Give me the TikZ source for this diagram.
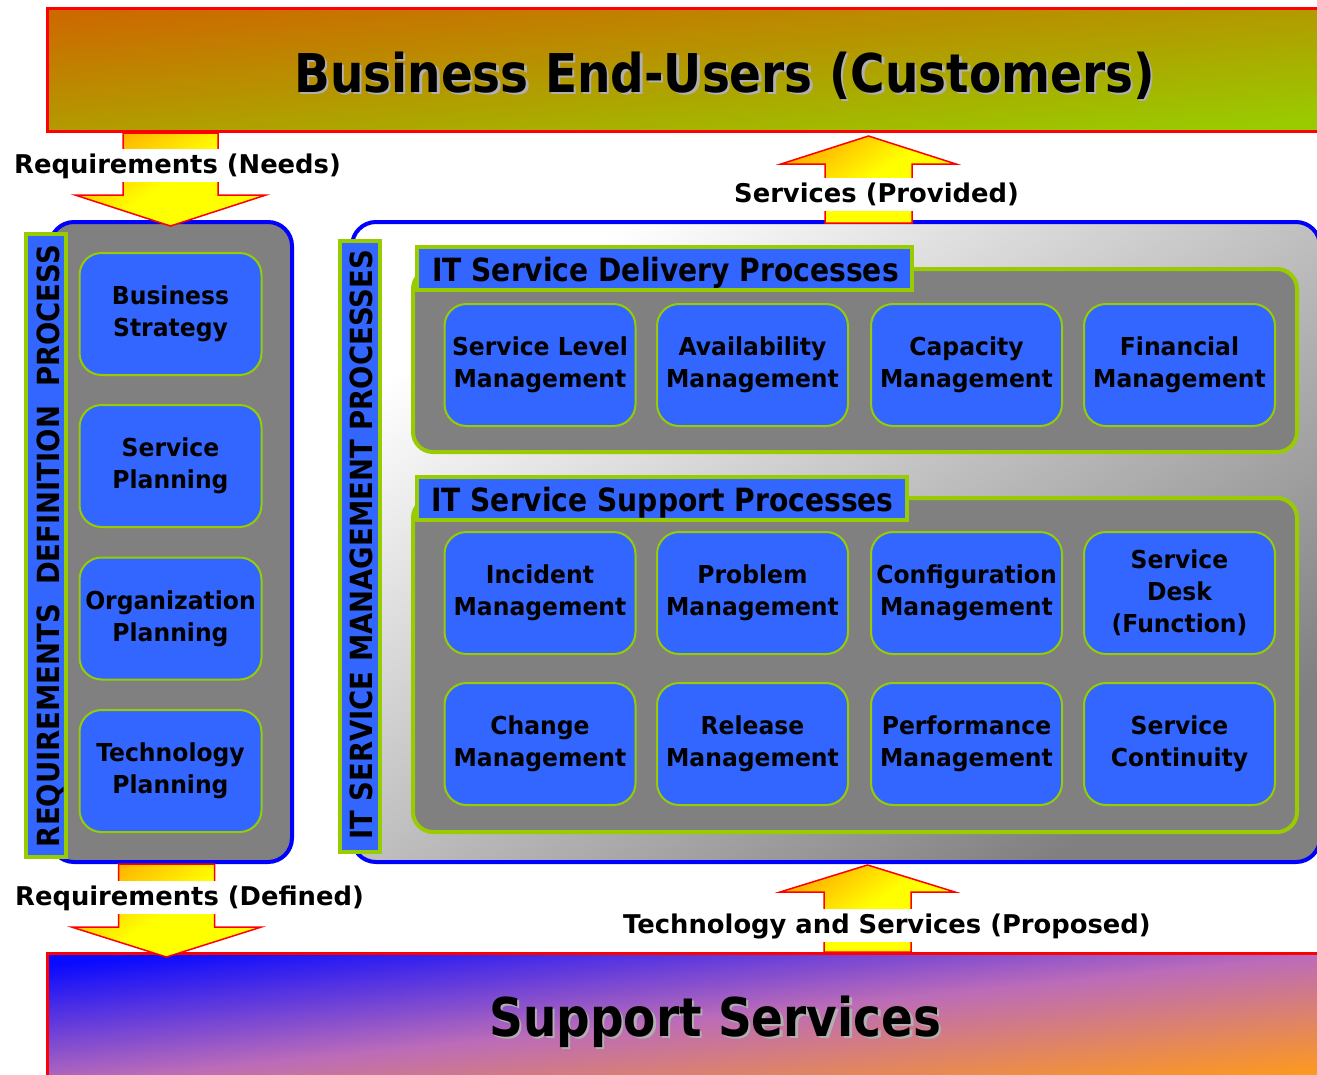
\documentclass[tikz,border=0pt]{standalone}
\usepackage{fontspec}
\setmainfont{DejaVu Sans}
\newfontfamily\narrowfam{DejaVu Sans}[FakeStretch=0.88]
\newfontfamily\vertfam{DejaVu Sans}[FakeStretch=0.9]
\newfontfamily\procfam{DejaVu Sans}[FakeStretch=0.95]
\usepackage{tikz}
\usetikzlibrary{calc}
\definecolor{redline}{HTML}{FF0000}
\definecolor{custA}{HTML}{CC6A00}
\definecolor{custB}{HTML}{99CC00}
\definecolor{suppA}{HTML}{0A0AFF}
\definecolor{suppM}{HTML}{BC6CB8}
\definecolor{suppB}{HTML}{FF9A1A}
\definecolor{frameblue}{HTML}{0000FF}
\definecolor{lime}{HTML}{99CC00}
\definecolor{procblue}{HTML}{3366FF}
\definecolor{midgrey}{HTML}{808080}
\definecolor{shadowgrey}{HTML}{B0B0B0}
\definecolor{arrorange}{HTML}{FFB000}
\definecolor{arryellow}{HTML}{FFFF00}
\newcommand{\bigfont}{\narrowfam\fontsize{53.4}{60}\selectfont\bfseries}
\newcommand{\labfont}{\fontsize{25.8}{30}\selectfont\bfseries}
\newcommand{\procfont}{\procfam\fontsize{24.7}{32}\selectfont\bfseries}
\newcommand{\tabfont}{\narrowfam\fontsize{32}{36}\selectfont\bfseries}
\newcommand{\vfont}{\vertfam\fontsize{30.5}{34}\selectfont\bfseries}
% block arrow: centre x, shaft half, head half, y start, y head base, y tip
\newcommand{\blockflow}[6]{%
  \draw[flow] (#1-#2,#4) -- (#1-#2,#5) -- (#1-#3,#5) -- (#1,#6)
    -- (#1+#3,#5) -- (#1+#2,#5) -- (#1+#2,#4) -- cycle;}
\tikzset{
  banner/.style={draw=redline, line width=3pt},
  frame/.style={draw=frameblue, line width=4pt, rounded corners=24pt},
  strip/.style={draw=lime, line width=4pt, fill=procblue},
  group/.style={draw=lime, line width=4pt, fill=midgrey, rounded corners=20pt},
  tab/.style={draw=lime, line width=4pt, fill=procblue},
  proc/.style={draw=lime, line width=2pt, fill=procblue, rounded corners=22pt,
    minimum width=191pt, minimum height=122pt, inner sep=0pt, align=center, font=\procfont},
  reqproc/.style={proc, minimum width=182pt},
  flow/.style={draw=redline, line width=1.5pt, line join=miter, top color=arrorange,
    bottom color=arryellow, middle color=arryellow, shading angle=35},
  flowlab/.style={fill=white, anchor=base west, inner xsep=0pt, inner ysep=2pt,
    text height=22pt, text depth=7pt, font=\labfont},
  vlab/.style={rotate=90, anchor=base, inner sep=0pt, font=\vfont},
  tabtitle/.style={anchor=base west, inner sep=0pt, font=\tabfont},
  bigtitle/.style={anchor=base west, inner sep=0pt, font=\bigfont},
}
\begin{document}
\begin{tikzpicture}[x=1pt,y=-1pt]
  \clip (0,0) rectangle (1317,1074);
  \fill[white] (0,0) rectangle (1317,1074);
  % banners
  \draw[banner, top color=custA, bottom color=custB, shading angle=5.4] (47,8) rectangle (1345,131);
  \draw[banner, top color=suppA, bottom color=suppB, middle color=suppM, shading angle=5.8] (47,953) rectangle (1345,1085);
  \node[bigtitle, text=shadowgrey] (custshadow) at (296.5,94) {Business End-Users (Customers)};
  \node[bigtitle] (custtitle) at (294,92) {Business End-Users (Customers)};
  \node[bigtitle, text=shadowgrey] (suppshadow) at (491.5,1038) {Support Services};
  \node[bigtitle] (supptitle) at (489,1036) {Support Services};
  % containers
  \draw[frame, fill=midgrey] (50,222) rectangle (292,862);
  \draw[frame, top color=white, bottom color=midgrey, shading angle=33.5] (352,222) rectangle (1320,862);
  \draw[strip] (26,234) rectangle (66,857);
  \draw[strip] (340,241) rectangle (380,852);
  \node[vlab] (reqlabel) at (59,546) {REQUIREMENTS\ \ DEFINITION\ \ PROCESS};
  \node[vlab] (itsmlabel) at (372,545) {IT SERVICE MANAGEMENT PROCESSES};
  % requirements definition
  \foreach \nm/\yy/\txt in {bstrat/314/{Business\\Strategy}, splan/466/{Service\\Planning},
      oplan/618.5/{Organization\\Planning}, tplan/771/{Technology\\Planning}}
    \node[reqproc] (\nm) at (170.5,\yy) {\txt};
  % service delivery
  \draw[group] (413,269) rectangle (1297,452);
  \draw[tab] (417,247) rectangle (912,290);
  \node[tabtitle] (dlvtitle) at (432,281) {IT Service Delivery Processes};
  \foreach \nm/\xx/\txt in {slm/540/{Service Level\\Management}, avail/752.5/{Availability\\Management},
      capa/966.5/{Capacity\\Management}, fin/1179.5/{Financial\\Management}}
    \node[proc] (\nm) at (\xx,365) {\txt};
  % service support
  \draw[group] (413,498) rectangle (1297,832);
  \draw[tab] (417,477) rectangle (907,520);
  \node[tabtitle] (suptitle) at (431,511) {IT Service Support Processes};
  \foreach \nm/\xx/\txt in {inc/540/{Incident\\Management}, prob/752.5/{Problem\\Management},
      conf/966.5/{Configuration\\Management}, desk/1179.5/{Service\\Desk\\(Function)}}
    \node[proc] (\nm) at (\xx,593) {\txt};
  \foreach \nm/\xx/\txt in {chg/540/{Change\\Management}, rel/752.5/{Release\\Management},
      perf/966.5/{Performance\\Management}, cont/1179.5/{Service\\Continuity}}
    \node[proc] (\nm) at (\xx,744) {\txt};
  % flows
  \blockflow{170.5}{47.5}{95.5}{133}{195}{226}
  \blockflow{166.5}{48}{95}{864}{927}{957}
  \blockflow{868.5}{43.5}{87.5}{223}{164}{136}
  \blockflow{867.5}{43.5}{87.5}{952}{892}{865}
  \node[flowlab] (needs) at (14,173) {Requirements (Needs)};
  \node[flowlab] (defined) at (15,905) {Requirements (Defined)};
  \node[flowlab] (provided) at (734,202) {Services (Provided)};
  \node[flowlab] (proposed) at (623,933) {Technology and Services (Proposed)};
\end{tikzpicture}
\end{document}
